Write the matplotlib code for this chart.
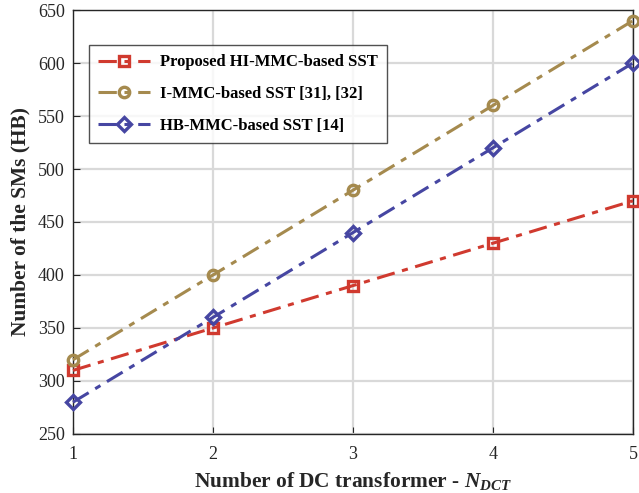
import matplotlib
matplotlib.use("Agg")
import matplotlib.pyplot as plt

n_dct = [1, 2, 3, 4, 5]
hi_mmc = [310, 350, 390, 430, 470]
i_mmc = [320, 400, 480, 560, 640]
hb_mmc = [280, 360, 440, 520, 600]

labels = [
    "Proposed HI-MMC-based SST",
    "I-MMC-based SST [31], [32]",
    "HB-MMC-based SST [14]",
]

RED = "#d03a2f"
OLIVE = "#a58a4e"
BLUE = "#4646a2"
INK = "#262626"

plt.rcParams["font.family"] = ["Liberation Serif", "DejaVu Serif"]
plt.rcParams["mathtext.fontset"] = "custom"
plt.rcParams["mathtext.it"] = "Liberation Serif:italic:bold"
plt.rcParams["mathtext.rm"] = "Liberation Serif:bold"

fig = plt.figure(figsize=(6.39, 4.93), dpi=100)
ax = fig.add_axes([0.1142, 0.1197, 0.8764, 0.860])

style = dict(linestyle=(0, (6, 2.5, 2, 2.5)), linewidth=2.2, markersize=7.5,
             markerfacecolor="none", markeredgewidth=2.4, clip_on=False, zorder=3)
ax.plot(n_dct, hi_mmc, color=RED, marker="s", label=labels[0], **style)
ax.plot(n_dct, i_mmc, color=OLIVE, marker="o", label=labels[1], **style)
ax.plot(n_dct, hb_mmc, color=BLUE, marker="D", label=labels[2],
        **{**style, "markersize": 7})

ax.set_xlim(1, 5)
ax.set_ylim(250, 650)
ax.set_xticks(n_dct)
ax.set_yticks(range(250, 651, 50))
ax.grid(True, color="#d9d9d9", linewidth=1.6)
ax.set_axisbelow(True)
for side in ax.spines.values():
    side.set_color(INK)
    side.set_linewidth(1.0)
ax.tick_params(direction="in", length=5, labelsize=13, colors=INK, pad=6)
ax.tick_params(axis="x", pad=9)

ax.set_xlabel(r"Number of DC transformer - $N_{DCT}$", fontsize=15.4,
              fontweight="bold", color=INK, labelpad=5)
ax.set_ylabel("Number of the SMs (HB)", fontsize=15.4, fontweight="bold",
              color=INK, labelpad=5)

leg = ax.legend(loc="upper left", bbox_to_anchor=(0.0286, 0.917),
                prop={"weight": "bold", "size": 12}, frameon=True,
                fancybox=False, edgecolor=INK, handlelength=3.1,
                handletextpad=0.6, borderpad=0.55, labelspacing=0.95,
                borderaxespad=0)
leg.get_frame().set_linewidth(1.0)

fig.savefig("out.png", dpi=100)
